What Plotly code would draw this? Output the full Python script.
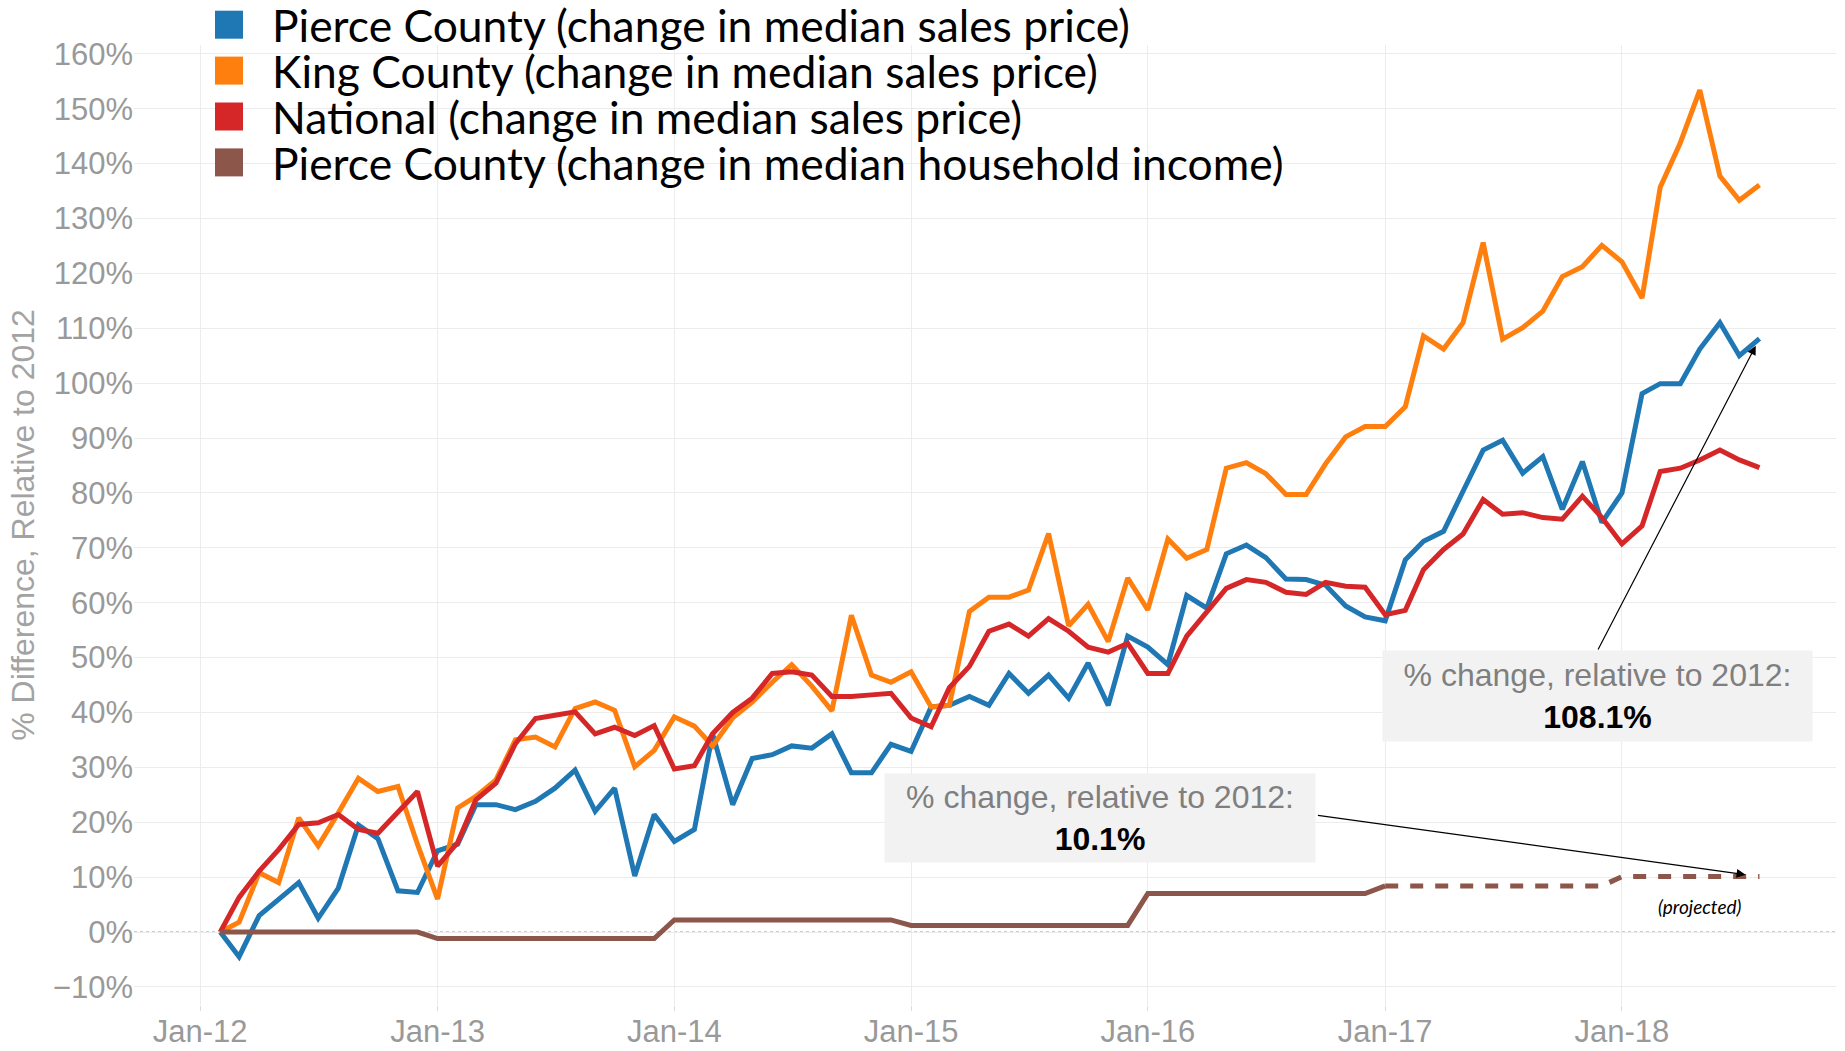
import plotly.graph_objects as go
import pandas as pd

# ---------------- data ----------------
months = pd.date_range("2012-02-01", "2018-08-01", freq="MS")

pierce_price = [
    0, -4.5, 3, 6, 9, 2.5, 8, 19.5, 17, 7.5, 7.2,
    14.8, 16, 23.2, 23.2, 22.3, 23.8, 26.2, 29.5, 22, 26.2, 10.2, 21.4,
    16.5, 18.7, 36.1, 23.2, 31.6, 32.3, 33.9, 33.5, 36.1, 29, 29, 34.2,
    32.9, 41, 41.3, 42.9, 41.3, 47.1, 43.5, 46.8, 42.6, 49, 41.3, 53.9,
    51.9, 48.7, 61.3, 59, 68.9, 70.5, 68.2, 64.3, 64.2, 63.2, 59.4, 57.4,
    56.7, 67.8, 71.2, 73, 80.3, 87.8, 89.6, 83.6, 86.6, 77, 85.7, 74.6,
    80, 98.1, 99.9, 99.9, 106.2, 111, 105, 108.1,
]

king_price = [
    0, 1.8, 10.8, 9, 20.8, 15.7, 21.7, 28, 25.6, 26.5, 16,
    6, 22.6, 24.7, 27.7, 35, 35.5, 33.7, 40.7, 41.9, 40.4, 30.1, 33.1,
    39.2, 37.5, 33.9, 39, 41.9, 45.5, 48.7, 44.8, 40.3, 57.7, 46.8, 45.5,
    47.4, 41, 41.3, 58.4, 61, 61, 62.3, 72.6, 55.8, 59.7, 52.9, 64.5,
    58.7, 71.6, 68.1, 69.7, 84.5, 85.5, 83.5, 79.7, 79.7, 85.3, 90.2, 92.1,
    92.1, 95.7, 108.6, 106.2, 111, 125.6, 108, 110.1, 113.1, 119.4, 121.2, 125.1,
    122.1, 115.5, 135.7, 143.8, 153.4, 137.7, 133.3, 136.1,
]

national_price = [
    0, 6.3, 11.1, 15, 19.6, 19.9, 21.4, 18.7, 18, 22, 25.6,
    12, 16.3, 24.1, 27.1, 34.3, 38.9, 39.5, 40.1, 36.1, 37.3, 35.8, 37.6,
    29.7, 30.3, 36.1, 40, 42.6, 47.1, 47.4, 46.8, 42.9, 42.9, 43.2, 43.5,
    39, 37.4, 44.5, 48.4, 54.8, 56.1, 53.9, 57.1, 54.8, 51.9, 51, 52.6,
    47.1, 47.1, 53.9, 58.4, 62.6, 64.2, 63.7, 61.9, 61.5, 63.7, 63, 62.8,
    57.8, 58.6, 66, 69.7, 72.5, 78.8, 76.1, 76.4, 75.5, 75.2, 79.4, 75.5,
    70.7, 74, 83.9, 84.5, 86, 87.8, 86, 84.6,
]

# median household income: one value per year, repeated for each month
pierce_income = ([0.0] * 11 + [-1.2] * 12 + [2.2] * 12 + [1.2] * 12
                 + [7.0] * 12 + [8.4] * 12 + [10.1] * 8)

series_names = [
    "Pierce County (change in median sales price)",
    "King County (change in median sales price)",
    "National (change in median sales price)",
    "Pierce County (change in median household income)",
]
series_colors = ["#1f77b4", "#ff7f0e", "#d62728", "#8c564b"]

projection_start = pd.Timestamp("2017-01-01")

# ---------------- layout geometry ----------------
W, H = 1845, 1051
ML, MR, MT, MB = 134, 9, 45, 46
PW, PH = W - ML - MR, H - MT - MB


def px(x):
    return (x - ML) / PW


def py(y):
    return (H - MB - y) / PH


fig = go.Figure()

for vals, name, col in zip([pierce_price, king_price, national_price],
                           series_names[:3], series_colors[:3]):
    fig.add_trace(go.Scatter(x=months, y=vals, mode="lines", name=name,
                             line=dict(color=col, width=5), showlegend=False))

inc = pd.Series(pierce_income, index=months)
solid = inc[inc.index <= projection_start]
proj = inc[inc.index >= projection_start]
fig.add_trace(go.Scatter(x=solid.index, y=solid.values, mode="lines",
                         name=series_names[3],
                         line=dict(color=series_colors[3], width=5),
                         showlegend=False))
fig.add_trace(go.Scatter(x=proj.index, y=proj.values, mode="lines",
                         name=series_names[3] + " projected",
                         line=dict(color=series_colors[3], width=5, dash="13px,12px"),
                         showlegend=False))

shapes = [dict(type="line", xref="paper", x0=0, x1=1, yref="y", y0=0, y1=0,
               line=dict(color="#9a9a9a", width=1, dash="dot"), layer="between")]
annotations = []

# manual legend: colour squares + one tightly spaced text block
row_centers = [24.7, 70.6, 116.5, 162.4]
for col, cy in zip(series_colors, row_centers):
    shapes.append(dict(type="rect", xref="paper", yref="paper",
                       x0=px(215), x1=px(243), y0=py(cy + 14), y1=py(cy - 14),
                       fillcolor=col, line=dict(width=0)))
legend_text = "<br>".join("<span style='font-size:44.4px'>%s</span>" % n for n in series_names)
annotations.append(dict(xref="paper", yref="paper", x=px(270),
                        y=py(sum(row_centers) / len(row_centers) - 0.5),
                        xanchor="left", yanchor="middle", align="left",
                        text=legend_text, showarrow=False,
                        font=dict(family="Lato", size=35.4, color="black")))

box_font = dict(family="Arial, Liberation Sans", size=32, color="black")
box_label = "<span style='color:#7f7f7f'>% change, relative to 2012:</span><br><b>{:.1f}%</b>"
# callout boxes
annotations.append(dict(
    x="2017-11-25", y=43.0, xref="x", yref="y", showarrow=False,
    text=box_label.format(pierce_price[-1]),
    font=box_font, bgcolor="#f2f2f2", width=423, height=84, borderpad=3, align="center"))
annotations.append(dict(
    x="2015-10-20", y=20.8, xref="x", yref="y", showarrow=False,
    text=box_label.format(pierce_income[-1]),
    font=box_font, bgcolor="#f2f2f2", width=424, height=82, borderpad=3, align="center"))
# arrows
annotations.append(dict(x=months[-1], y=pierce_price[-1], xref="x", yref="y",
                        ax="2017-11-24", ay=51.2, axref="x", ayref="y", text="",
                        showarrow=True, arrowhead=2, arrowsize=1.5, arrowwidth=1.2,
                        arrowcolor="black", standoff=8))
annotations.append(dict(x=months[-1], y=pierce_income[-1], xref="x", yref="y",
                        ax="2016-09-17", ay=21.3, axref="x", ayref="y", text="",
                        showarrow=True, arrowhead=2, arrowsize=1.5, arrowwidth=1.2,
                        arrowcolor="black", standoff=14))
annotations.append(dict(x="2018-05-02", y=4.7, xref="x", yref="y", showarrow=False,
                        text="<i>(projected)</i>",
                        font=dict(family="Lato", size=19, color="black")))

fig.update_layout(
    width=W, height=H,
    margin=dict(l=ML, r=MR, t=MT, b=MB, autoexpand=False),
    paper_bgcolor="white", plot_bgcolor="white",
    showlegend=False,
    shapes=shapes, annotations=annotations,
    xaxis=dict(type="date", range=["2011-09-21", "2018-11-27"],
               tick0="2012-01-01", dtick="M12", tickformat="%b-%y",
               showgrid=True, gridcolor="#ececec", gridwidth=1,
               ticks="outside", ticklen=5, tickcolor="#dddddd",
               ticklabelstandoff=-6,
               tickfont=dict(family="Arial, Liberation Sans", size=31, color="#999999"),
               zeroline=False, showline=False),
    yaxis=dict(range=[-13.3, 161.6], tick0=0, dtick=10, ticksuffix="%",
               showgrid=True, gridcolor="#ececec", gridwidth=1,
               tickfont=dict(family="Arial, Liberation Sans", size=31, color="#999999"),
               zeroline=False, showline=False,
               title=dict(text="% Difference, Relative to 2012",
                          font=dict(family="Arial, Liberation Sans", size=32, color="#a3a3a3"),
                          standoff=8)),
)

fig.write_html("out.html", config={"displayModeBar": False},
               post_script="document.body.style.margin='0px';document.body.style.overflow='hidden';")
